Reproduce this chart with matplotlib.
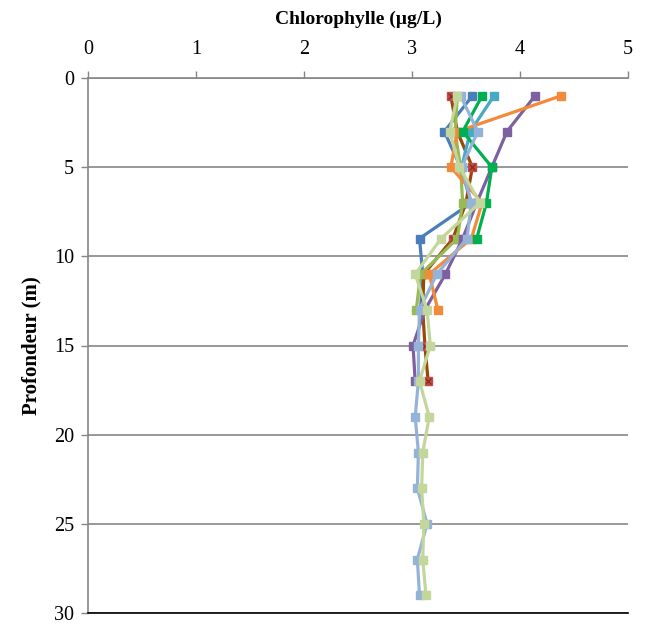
import matplotlib.pyplot as plt
import matplotlib as mpl

mpl.rc('font', family='Liberation Serif')

depth = [1, 3, 5, 7, 9, 11, 13, 15, 17, 19, 21, 23, 25, 27, 29]

# chlorophylle par profil (µg/L)
blue = [3.56, 3.30, 3.45, 3.55, 3.07, 3.10, 3.08]
red = [3.36, 3.42, 3.56, 3.50, 3.38, 3.11, 3.10, 3.12, 3.15]
olive = [3.42, 3.40, 3.45, 3.47, 3.42, 3.08, 3.04]
purple = [4.14, 3.88, 3.74, 3.60, 3.47, 3.31, 3.12, 3.01, 3.03]
teal = [3.76, 3.54, 3.46]
orange = [4.38, 3.42, 3.36, 3.65, 3.55, 3.16, 3.24]
green = [3.65, 3.47, 3.74, 3.69, 3.60]
lightblue = [3.45, 3.61, 3.46, 3.55, 3.51, 3.23, 3.07, 3.06, 3.06,
             3.03, 3.06, 3.05, 3.14, 3.05, 3.07]
lightgreen = [3.42, 3.35, 3.44, 3.63, 3.27, 3.03, 3.14, 3.17, 3.07,
              3.16, 3.10, 3.09, 3.11, 3.10, 3.13]

series = [
    (blue, '#4A7EBB', '#4A7EBB'),
    (red, '#984807', '#BE4B48'),
    (olive, '#98B954', '#98B954'),
    (purple, '#7D60A0', '#7D60A0'),
    (teal, '#46AAC5', '#46AAC5'),
    (orange, '#F38A3A', '#F38A3A'),
    (green, '#00B050', '#00B050'),
    (lightblue, '#95B3D7', '#95B3D7'),
    (lightgreen, '#C3D69B', '#C3D69B'),
]

fig = plt.figure(figsize=(6.46, 6.25), dpi=100)
ax = fig.add_axes([0.1362, 0.0192, 0.8358, 0.856])

for vals, lc, mc in series:
    ax.plot(vals, depth[:len(vals)], color=lc, lw=2.3, marker='s', ms=6.2,
            mfc=mc, mec=mc, zorder=3)
    if vals is red:
        ax.plot(vals, depth[:len(vals)], ls='none', marker='x', ms=5,
                mec='#8B2A1A', mew=0.9, zorder=3)

ax.set_xlim(0, 5)
ax.set_ylim(30, 0)
ax.set_xticks(range(0, 6))
ax.set_yticks(range(0, 31, 5))
ax.xaxis.tick_top()
ax.xaxis.set_label_position('top')
ax.set_xlabel('Chlorophylle (µg/L)', fontsize=14, fontweight='bold', labelpad=11)
ax.set_ylabel('Profondeur (m)', fontsize=15, fontweight='bold', labelpad=9)

ax.grid(axis='y', color='#868686', lw=1.2)
ax.set_axisbelow(True)
ax.tick_params(axis='both', direction='out', length=5, color='#868686',
               width=1.0, labelsize=14.5)
ax.tick_params(axis='x', pad=9)
ax.tick_params(axis='y', pad=5)

ax.spines['right'].set_visible(False)
ax.spines['top'].set_color('#868686')
ax.spines['left'].set_color('#868686')
ax.spines['left'].set_linewidth(1.2)
ax.spines['top'].set_linewidth(1.2)
ax.spines['bottom'].set_color('black')
ax.spines['bottom'].set_linewidth(1.2)

plt.savefig('out.png', dpi=100)
